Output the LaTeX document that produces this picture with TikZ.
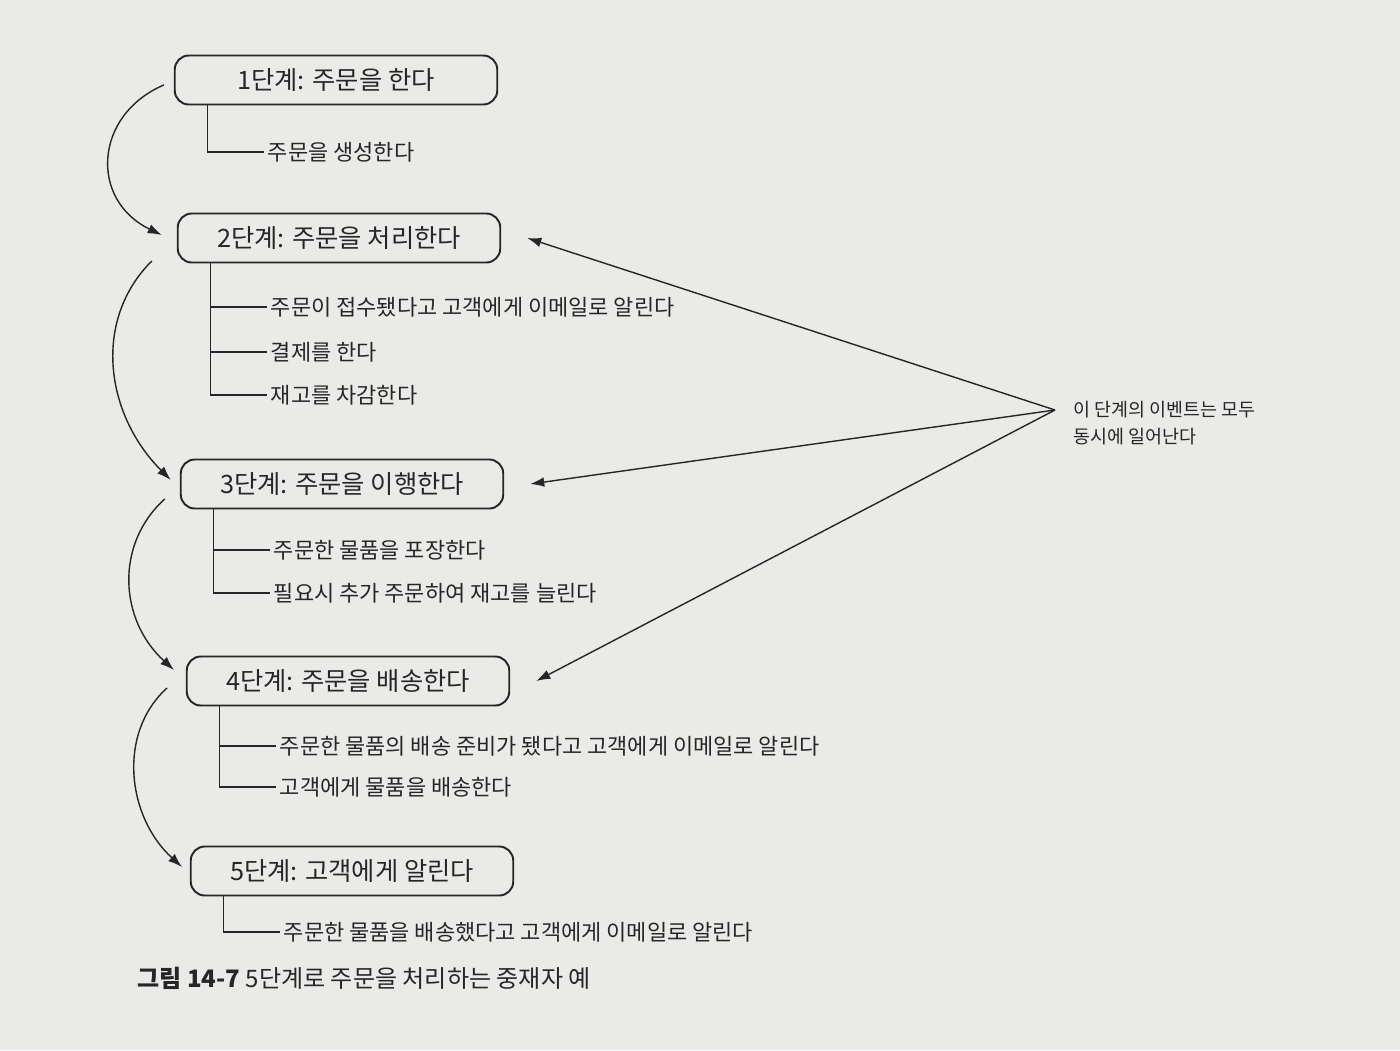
\documentclass[tikz,border=0pt]{standalone}
\usepackage{fontspec}
\setmainfont{Noto Sans CJK KR}
\usetikzlibrary{arrows.meta}

\definecolor{page}{RGB}{234,234,232}
\definecolor{ink}{RGB}{38,38,38}

\tikzset{
  stage/.style={draw=ink, line width=1.1pt, rounded corners=8pt, minimum width=6.45cm, minimum height=0.98cm, text=ink, font=\fontsize{14.4}{17}\selectfont},
  task/.style={anchor=west, inner sep=2pt, text=ink, font=\fontsize{12.5}{15}\selectfont},
  branch/.style={draw=ink, line width=0.8pt},
  flow/.style={draw=ink, line width=0.8pt, -{Latex[length=8pt,width=5.5pt]}},
  note/.style={anchor=west, align=left, inner sep=0pt, text=ink, font=\fontsize{10.5}{15.3}\selectfont},
  caption/.style={anchor=west, inner sep=0pt, text=ink, font=\fontsize{13.7}{16}\selectfont}
}

\begin{document}
\begin{tikzpicture}
        \fill[page] (0,0) rectangle (28,-21);
        \useasboundingbox (0,0) rectangle (28,-21);

        % Draw the stages
        \foreach \n/\x/\y/\t in {1/6.72/-1.60/{1단계: 주문을 한다}, 2/6.78/-4.76/{2단계: 주문을 처리한다},
                                 3/6.84/-9.68/{3단계: 주문을 이행한다}, 4/6.96/-13.62/{4단계: 주문을 배송한다},
                                 5/7.04/-17.42/{5단계: 고객에게 알린다}} {
            \node[stage] (b\n) at (\x,\y) {\t};
            \coordinate (r\n) at ([xshift=0.68cm]b\n.south west);
        }

        % Tasks of each stage
        \foreach \n/\x/\y/\t in {1a/5.28/-3.04/{주문을 생성한다},
                                 2a/5.34/-6.14/{주문이 접수됐다고 고객에게 이메일로 알린다}, 2b/5.34/-7.04/{결제를 한다}, 2c/5.34/-7.90/{재고를 차감한다},
                                 3a/5.40/-11.00/{주문한 물품을 포장한다}, 3b/5.40/-11.86/{필요시 추가 주문하여 재고를 늘린다},
                                 4a/5.52/-14.92/{주문한 물품의 배송 준비가 됐다고 고객에게 이메일로 알린다}, 4b/5.52/-15.74/{고객에게 물품을 배송한다},
                                 5a/5.60/-18.64/{주문한 물품을 배송했다고 고객에게 이메일로 알린다}} {
            \node[task] (s\n) at (\x,\y) {\t};
        }
        \foreach \n/\m in {1/1a, 2/2a, 2/2b, 2/2c, 3/3a, 3/3b, 4/4a, 4/4b, 5/5a} {
            \draw[branch] (r\n) |- (s\m.west);
        }

        % Stage order
        \draw[flow] ([shift={(-0.2,-0.1)}]b1.west) .. controls +(-1.4,-0.6) and +(-1.45,0.7) .. ([shift={(-0.3,0.06)}]b2.west);
        \draw[flow] ([shift={(-0.5,0.05)}]b2.south west) .. controls +(-1.2,-1.2) and +(-1.3,1.3) .. ([shift={(-0.18,0.08)}]b3.west);
        \draw[flow] ([shift={(-0.3,0.21)}]b3.south west) .. controls +(-1.0,-0.9) and +(-1.1,1.0) .. ([shift={(-0.235,0.22)}]b4.west);
        \draw[flow] ([shift={(-0.375,-0.14)}]b4.west) .. controls +(-1.0,-0.9) and +(-1.1,1.0) .. ([shift={(-0.155,0.08)}]b5.west);

        % Events at the same time
        \coordinate (apex) at (21.1,-8.2);
        \node[note] (msg) at (21.46,-8.47) {이 단계의 이벤트는 모두\\동시에 일어난다};
        \foreach \n in {2,3,4} {
            \draw[flow] (apex) -- ([xshift=0.52cm]b\n.east);
        }

        \node[caption] (cap) at (2.74,-19.56) {\textbf{그림 14-7} 5단계로 주문을 처리하는 중재자 예};
    \end{tikzpicture}
\end{document}
